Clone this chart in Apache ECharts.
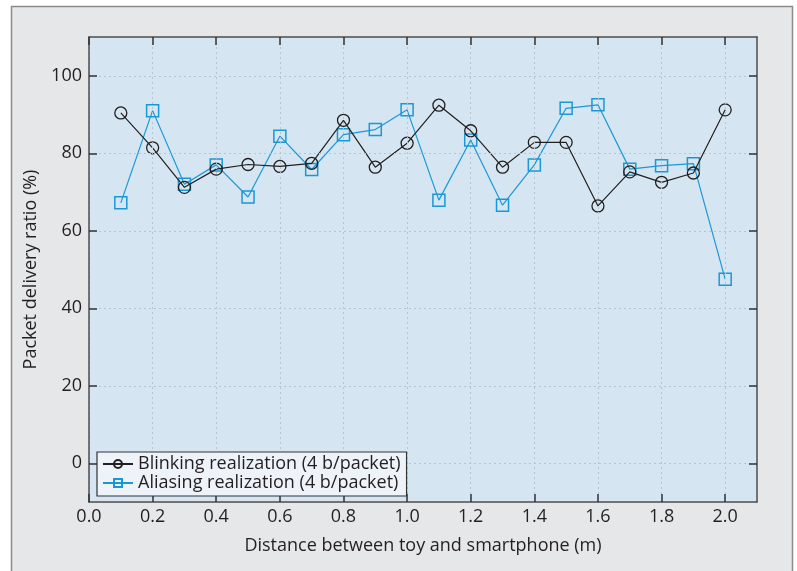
<!DOCTYPE html>
<html>
<head>
<meta charset="utf-8">
<script src="https://cdn.jsdelivr.net/npm/echarts@6/dist/echarts.min.js"></script>
<style>
html,body{margin:0;padding:0;background:#fff;}
#chart{width:797px;height:571px;}
</style>
</head>
<body>
<div id="chart"></div>
<script>
const distances = [0.1,0.2,0.3,0.4,0.5,0.6,0.7,0.8,0.9,1.0,1.1,1.2,1.3,1.4,1.5,1.6,1.7,1.8,1.9,2.0];
const blinking = [90.4,81.4,71.2,75.9,77.1,76.6,77.4,88.5,76.4,82.6,92.4,85.8,76.4,82.8,82.8,66.4,75.2,72.5,74.9,91.2];
const aliasing = [67.2,91.0,72.0,77.0,68.7,84.4,75.8,84.8,86.1,91.2,67.9,83.4,66.6,77.0,91.6,92.5,75.9,76.8,77.3,47.5];
const xTicks = [0,0.2,0.4,0.6,0.8,1.0,1.2,1.4,1.6,1.8,2.0];
const yTicks = [0,20,40,60,80,100];
const seriesNames = ['Blinking realization (4 b/packet)','Aliasing realization (4 b/packet)'];

const FONT = '"Open Sans", "Noto Sans", sans-serif';
const TXT = '#231f20';
const FS = 18;
const AX = '#4d4d4d';
const TICK = '#333333';
const chart = echarts.init(document.getElementById('chart'));

function pairs(ys){ return distances.map((x,i)=>[x, ys[i]]); }

const gridLine = {show:true, lineStyle:{color:'#b9c3cc', type:[2,3], width:1}};
function axLine(){ return {show:true, onZero:false, lineStyle:{color:AX, width:1.5}}; }
function tick(vals){ return {show:true, inside:true, length:8, customValues:vals, lineStyle:{color:TICK, width:1.5}}; }

chart.setOption({
  animation:false,
  graphic:[{
    type:'rect', z:-100, silent:true,
    shape:{x:11.5, y:6.5, width:781, height:620},
    style:{fill:'#e6e7e9', stroke:'#8c8c8c', lineWidth:1.5}
  }],
  grid:{left:89, right:40, top:37, bottom:69, show:true, backgroundColor:'#d5e6f2', borderColor:AX, borderWidth:0},
  legend:{
    orient:'vertical', left:97, top:452, z:20,
    backgroundColor:'#edf3f9', borderColor:'#333', borderWidth:1.2, borderRadius:0,
    padding:[3,6,4,5], itemGap:1, itemWidth:30, itemHeight:10,
    textStyle:{fontFamily:FONT, fontSize:FS, color:TXT},
    data:seriesNames
  },
  xAxis:[{
    type:'value', min:0, max:2.1, position:'bottom', z:10,
    name:'Distance between toy and smartphone (m)', nameLocation:'middle', nameGap:35,
    nameTextStyle:{fontFamily:FONT, fontSize:FS, color:TXT},
    axisLine:axLine(), axisTick:tick(xTicks),
    axisLabel:{customValues:xTicks, fontFamily:FONT, fontSize:FS, color:TXT, margin:6, formatter:v=>v.toFixed(1)},
    splitLine:gridLine
  },{
    type:'value', min:0, max:2.1, position:'top', z:10,
    axisLine:axLine(), axisTick:tick(xTicks),
    axisLabel:{show:false}, splitLine:{show:false}
  }],
  yAxis:[{
    type:'value', min:-10, max:110, position:'left', z:10,
    name:'Packet delivery ratio (%)', nameLocation:'middle', nameGap:38, nameRotate:90,
    nameTextStyle:{fontFamily:FONT, fontSize:FS, color:TXT},
    axisLine:axLine(), axisTick:tick(yTicks),
    axisLabel:{customValues:yTicks, fontFamily:FONT, fontSize:FS, color:TXT, margin:7},
    splitLine:gridLine
  },{
    type:'value', min:-10, max:110, position:'right', z:10,
    axisLine:axLine(), axisTick:tick(yTicks),
    axisLabel:{show:false}, splitLine:{show:false}
  }],
  series:[{
    name:seriesNames[0], type:'line', data:pairs(blinking),
    symbol:'circle', symbolSize:12, showAllSymbol:true,
    lineStyle:{color:'#231f20', width:1.2},
    itemStyle:{color:'rgba(0,0,0,0)', borderColor:'#231f20', borderWidth:1.3},
    z:3
  },{
    name:seriesNames[1], type:'line', data:pairs(aliasing),
    symbol:'rect', symbolSize:12, showAllSymbol:true,
    lineStyle:{color:'#1a98d5', width:1.2},
    itemStyle:{color:'rgba(0,0,0,0)', borderColor:'#1a98d5', borderWidth:1.5},
    z:2
  }]
});
</script>
</body>
</html>
